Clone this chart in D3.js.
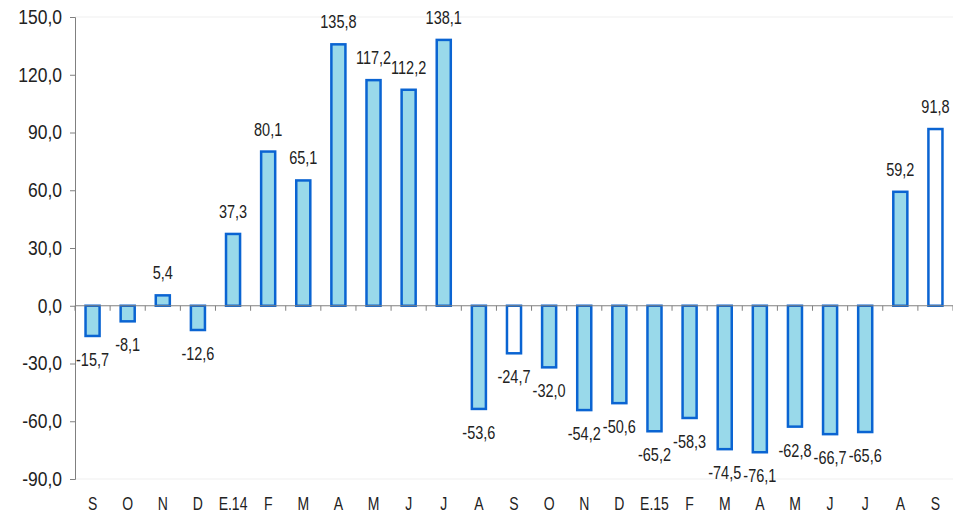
<!DOCTYPE html>
<html>
<head>
<meta charset="utf-8">
<script src="https://cdn.jsdelivr.net/npm/d3@7"></script>
<style>
  body { margin: 0; background: #fff; }
  svg { display: block; font-family: "Liberation Sans", Arial, sans-serif; }
</style>
</head>
<body>
<svg id="chart" width="953" height="512"></svg>
<script>
var months = ["S","O","N","D","E.14","F","M","A","M","J","J","A","S","O","N","D","E.15","F","M","A","M","J","J","A","S"];
var values = [-15.7,-8.1,5.4,-12.6,37.3,80.1,65.1,135.8,117.2,112.2,138.1,-53.6,-24.7,-32.0,-54.2,-50.6,-65.2,-58.3,-74.5,-76.1,-62.8,-66.7,-65.6,59.2,91.8];
// which bars are drawn hollow
var hollow = [12, 24];
var yTicks = [-90,-60,-30,0,30,60,90,120,150];

var svg = d3.select("#chart"),
    mLeft = 75, mRight = 953, mTop = 17, mBottom = 479;

var ids = d3.range(values.length);
var x = d3.scaleBand().domain(ids).range([mLeft, mRight]).paddingInner(0.6).paddingOuter(0.3);
var y = d3.scaleLinear().domain([-90, 150]).range([mBottom, mTop]);
var fmt = function(v){ return d3.format(".1f")(v).replace("\u2212", "-").replace(".", ","); };
var stretch = 1.25; // text in the picture is drawn taller than wide

// faint border lines top / bottom
[150, -90].forEach(function(v){
  svg.append("line")
    .attr("x1", mLeft).attr("x2", mRight)
    .attr("y1", y(v)).attr("y2", y(v))
    .attr("stroke", "#efefef").attr("stroke-width", 1);
});

// y axis
var yAxis = d3.axisLeft(y).tickValues(yTicks).tickFormat(fmt).tickSizeOuter(0).tickSize(5);
var gy = svg.append("g").attr("transform", `translate(${mLeft},0)`).call(yAxis);
gy.select(".domain").attr("stroke", "#808080");
gy.selectAll(".tick line").attr("stroke", "#808080");
gy.selectAll("text")
  .attr("font-size", 17.5).attr("fill", "#222").attr("x", -13)
  .attr("font-family", "Liberation Sans, Arial, sans-serif")
  .attr("transform", "scale(1,1.12)");

// bars
svg.selectAll("rect.bar").data(values).enter().append("rect")
  .attr("class", "bar")
  .attr("x", function(d,i){ return x(i); })
  .attr("width", x.bandwidth())
  .attr("y", function(d){ return y(Math.max(0, d)); })
  .attr("height", function(d){ return Math.abs(y(d) - y(0)); })
  .attr("fill", function(d,i){ return hollow.indexOf(i) >= 0 ? "#ffffff" : "#99d9ea"; })
  .attr("stroke", "#0a64d2")
  .attr("stroke-width", 2.5);

// zero axis with ticks between categories
svg.append("line")
  .attr("x1", mLeft).attr("x2", mRight)
  .attr("y1", y(0)).attr("y2", y(0))
  .attr("stroke", "#808080").attr("stroke-width", 1);
svg.selectAll("line.xt").data(d3.range(values.length + 1)).enter().append("line")
  .attr("class", "xt")
  .attr("x1", function(i){ return mLeft + i * x.step(); })
  .attr("x2", function(i){ return mLeft + i * x.step(); })
  .attr("y1", y(0)).attr("y2", y(0) + 5)
  .attr("stroke", "#808080");

// category labels
svg.selectAll("text.cat").data(months).enter().append("text")
  .attr("class", "cat")
  .attr("transform", function(d,i){
    return `translate(${x(i) + x.bandwidth() / 2},510) scale(1,${stretch})`;
  })
  .attr("text-anchor", "middle")
  .attr("font-size", 14)
  .attr("fill", "#222")
  .text(function(d){ return d; });

// value labels
svg.selectAll("text.val").data(values).enter().append("text")
  .attr("class", "val")
  .attr("transform", function(d,i){
    var ty = d >= 0 ? y(d) - 16 : y(d) + 30;
    return `translate(${x(i) + x.bandwidth() / 2},${ty}) scale(1,${stretch})`;
  })
  .attr("text-anchor", "middle")
  .attr("font-size", 14.5)
  .attr("fill", "#222")
  .text(function(d){ return fmt(d); });
</script>
</body>
</html>
